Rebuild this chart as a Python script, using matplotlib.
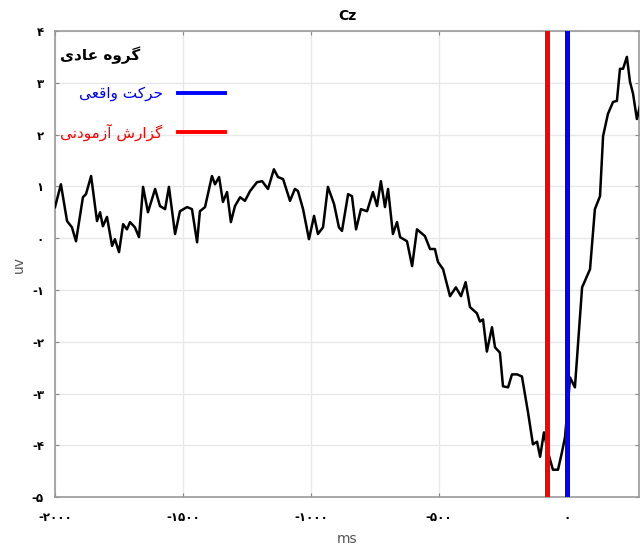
import numpy as np
import matplotlib.pyplot as plt
from matplotlib.lines import Line2D

# ERP at Cz, time locked to movement (ms)
time_ms = [-2000, -1977, -1953, -1934, -1918, -1891, -1879, -1859, -1836, -1824,
           -1813, -1797, -1777, -1766, -1750, -1734, -1719, -1707, -1688, -1672,
           -1656, -1637, -1609, -1590, -1570, -1555, -1531, -1512, -1484, -1465,
           -1445, -1434, -1414, -1387, -1375, -1359, -1344, -1328, -1313, -1297,
           -1277, -1258, -1238, -1211, -1191, -1168, -1145, -1129, -1109, -1082,
           -1063, -1051, -1031, -1008, -988, -973, -953, -934, -910, -891,
           -879, -855, -840, -824, -805, -781, -758, -742, -727, -711,
           -699, -680, -664, -652, -625, -605, -586, -555, -535, -516,
           -504, -484, -457, -434, -414, -396, -379, -352, -340, -328,
           -313, -293, -281, -262, -250, -230, -215, -195, -176, -152,
           -133, -117, -105, -90, -74, -55, -35, -20, -8, 2,
           12, 31, 59, 90, 109, 129, 141, 160, 180, 195,
           207, 219, 234, 246, 258, 273, 285]
amp_uv = [0.60, 1.04, 0.33, 0.21, -0.06, 0.79, 0.85, 1.20, 0.33, 0.50,
          0.23, 0.41, -0.15, -0.02, -0.27, 0.27, 0.17, 0.31, 0.21, 0.02,
          0.99, 0.50, 0.95, 0.62, 0.56, 0.99, 0.08, 0.52, 0.60, 0.56,
          -0.08, 0.52, 0.60, 1.20, 1.04, 1.18, 0.70, 0.89, 0.31, 0.62,
          0.79, 0.72, 0.91, 1.08, 1.10, 0.95, 1.33, 1.18, 1.14, 0.72,
          0.95, 0.91, 0.56, -0.02, 0.43, 0.08, 0.21, 0.99, 0.66, 0.21,
          0.14, 0.85, 0.81, 0.17, 0.56, 0.52, 0.89, 0.62, 1.10, 0.60,
          0.95, 0.08, 0.31, 0.02, -0.06, -0.54, 0.17, 0.04, -0.21, -0.21,
          -0.46, -0.60, -1.12, -0.95, -1.12, -0.85, -1.33, -1.45, -1.61, -1.57,
          -2.19, -1.72, -2.11, -2.21, -2.86, -2.88, -2.63, -2.63, -2.67, -3.37,
          -3.98, -3.93, -4.22, -3.75, -4.14, -4.47, -4.47, -4.14, -3.85, -3.30,
          -2.69, -2.88, -0.95, -0.60, 0.56, 0.81, 1.97, 2.40, 2.63, 2.65,
          3.27, 3.27, 3.50, 3.02, 2.79, 2.30, 2.55]

report_ms = -80   # subject report
move_ms = 0       # actual movement

x_ticks = [-2000, -1500, -1000, -500, 0]
x_labels = ['-۲۰۰۰', '-۱۵۰۰', '-۱۰۰۰', '-۵۰۰', '۰']
y_ticks = [-5, -4, -3, -2, -1, 0, 1, 2, 3, 4]
y_labels = ['-۵', '-۴', '-۳', '-۲', '-۱', '۰', '۱', '۲', '۳', '۴']

# persian strings in presentation forms, visual order (no shaping in mpl)
group_title = '\uFBFC\uFEA9\uFE8E\uFECB \uFEE9\uFEED\uFEAE\uFB94'       # گروه عادی
move_label = '\uFBFD\uFECC\uFED7\uFE8D\uFEED \uFE96\uFB90\uFEAE\uFEA3'   # حرکت واقعی
report_label = ('\uFBFD\uFEE7\uFEA9\uFEEE\uFEE3\uFEAF\uFE81 '
                '\uFEB5\uFEAD\uFE8D\uFEB0\uFB94')                          # گزارش آزمودنی

plt.rcParams['font.family'] = ['DejaVu Sans']

fig = plt.figure(figsize=(6.42, 5.53), dpi=100)
ax = fig.add_axes([0.0857, 0.101, 0.9095, 0.843])

ax.plot(time_ms, amp_uv, color='black', lw=1.8, zorder=3)
ax.axvline(report_ms, color='#ff0000', lw=3.6, zorder=4)
ax.axvline(move_ms, color='#0000ff', lw=3.6, zorder=4)

ax.set_xlim(-2000, 281)
ax.set_ylim(-5, 4)
ax.set_xticks(x_ticks)
ax.set_xticklabels(x_labels, fontweight='bold', fontsize=8.5)
ax.set_yticks(y_ticks)
ax.set_yticklabels(y_labels, fontweight='bold', fontsize=8.5)
ax.tick_params(direction='in', length=3, top=True, right=True, color='#888888')
ax.tick_params(axis='x', pad=10)
ax.tick_params(axis='y', pad=8)
ax.grid(True, color='#e8e8e8', lw=1.0)
ax.set_axisbelow(True)
for s in ax.spines.values():
    s.set_color('#999999')
    s.set_linewidth(1.2)

ax.set_title('Cz', fontweight='bold', fontsize=10, pad=8)
ax.set_xlabel('ms', fontsize=10, color='#555555', labelpad=6)
ax.set_ylabel('uv', fontsize=10, color='#555555', labelpad=4)

handles = [Line2D([], [], color='#0000ff', lw=2.8),
           Line2D([], [], color='#ff0000', lw=2.8)]
leg = ax.legend(handles, [move_label, report_label], loc='upper left',
                bbox_to_anchor=(0.0, 0.978),
                frameon=False, markerfirst=False, title=group_title,
                alignment='left', fontsize=11, handlelength=3.1,
                handletextpad=1.0, labelspacing=1.45, borderaxespad=0.0,
                borderpad=0.35, labelcolor='linecolor')
leg.get_title().set_fontweight('bold')
leg.get_title().set_fontsize(11)

fig.savefig('out.png', dpi=100)
